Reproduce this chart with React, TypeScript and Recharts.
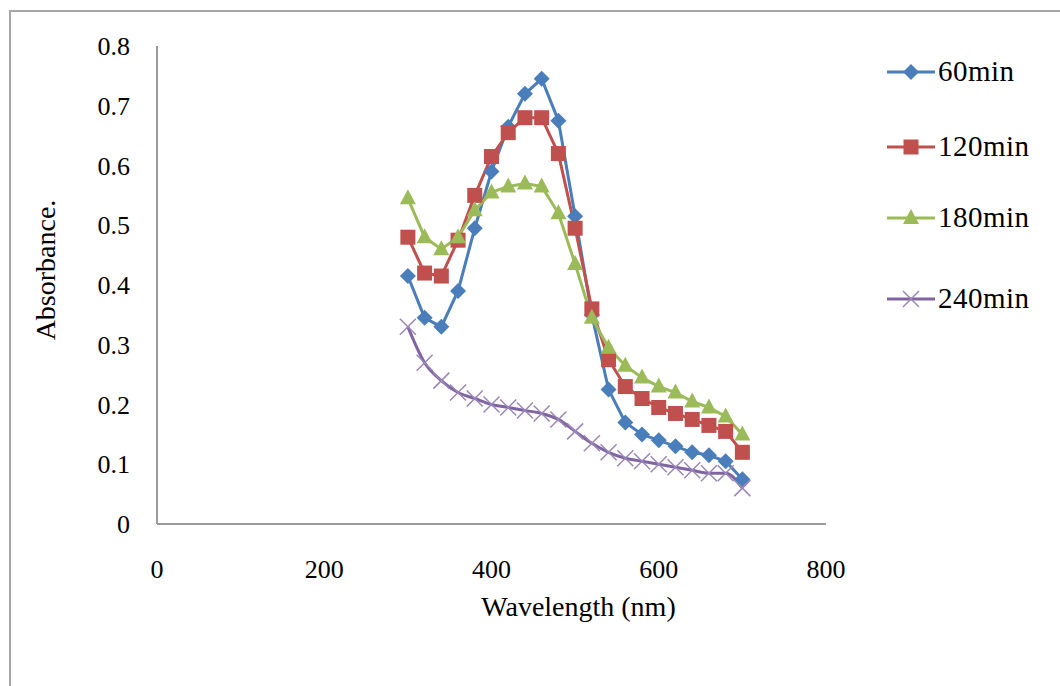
import React from "react";
import { LineChart, Line, XAxis, YAxis, Label } from "recharts";

const wavelengths = [300, 320, 340, 360, 380, 400, 420, 440, 460, 480, 500, 520, 540, 560, 580, 600, 620, 640, 660, 680, 700];
const min60 = [0.415, 0.345, 0.33, 0.39, 0.495, 0.59, 0.665, 0.72, 0.745, 0.675, 0.515, 0.35, 0.225, 0.17, 0.15, 0.14, 0.13, 0.12, 0.115, 0.105, 0.075];
const min120 = [0.48, 0.42, 0.415, 0.475, 0.55, 0.615, 0.655, 0.68, 0.68, 0.62, 0.495, 0.36, 0.275, 0.23, 0.21, 0.195, 0.185, 0.175, 0.165, 0.155, 0.12];
const min180 = [0.545, 0.48, 0.46, 0.48, 0.525, 0.555, 0.565, 0.57, 0.565, 0.52, 0.435, 0.345, 0.295, 0.265, 0.245, 0.23, 0.22, 0.205, 0.195, 0.18, 0.15];
const min240 = [0.33, 0.27, 0.24, 0.22, 0.21, 0.2, 0.195, 0.19, 0.185, 0.175, 0.155, 0.135, 0.12, 0.11, 0.105, 0.1, 0.095, 0.09, 0.085, 0.085, 0.06];
const xTicks = [0, 200, 400, 600, 800];
const yTicks = [0, 0.1, 0.2, 0.3, 0.4, 0.5, 0.6, 0.7, 0.8];

const data = wavelengths.map((w, i) => ({
    w,
    m60: min60[i],
    m120: min120[i],
    m180: min180[i],
    m240: min240[i]
}));

const FONT = "'Liberation Serif', 'Times New Roman', serif";
const BLUE = "#4a7ebb";
const RED = "#c0504d";
const GREEN = "#9bbb59";
const PURPLE = "#8064a2";

// @ts-ignore
const Diamond = ({ cx, cy }) => (
    <path d={`M${cx},${cy - 8}L${cx + 8},${cy}L${cx},${cy + 8}L${cx - 8},${cy}Z`} fill={BLUE} />
);
// @ts-ignore
const Square = ({ cx, cy }) => <rect x={cx - 7.5} y={cy - 7.5} width={15} height={15} fill={RED} />;
// @ts-ignore
const Triangle = ({ cx, cy }) => (
    <path d={`M${cx},${cy - 9}L${cx + 8},${cy + 6}L${cx - 8},${cy + 6}Z`} fill={GREEN} />
);
// @ts-ignore
const Cross = ({ cx, cy }) => (
    <path d={`M${cx - 8},${cy - 8}L${cx + 8},${cy + 8}M${cx + 8},${cy - 8}L${cx - 8},${cy + 8}`} stroke="#9a86b8" strokeWidth={1.5} fill="none" />
);

const legendItems = [
    { name: "60min", color: BLUE, Dot: Diamond, top: 55 },
    { name: "120min", color: RED, Dot: Square, top: 130 },
    { name: "180min", color: GREEN, Dot: Triangle, top: 201 },
    { name: "240min", color: PURPLE, Dot: Cross, top: 282 }
];

const CustomLegend = () => (
    <div style={{ position: "absolute", left: 885, top: 0, width: 180, height: 330 }}>
        {legendItems.map((it) => (
            <div key={it.name} style={{ position: "absolute", top: it.top, left: 0, display: "flex", alignItems: "center", whiteSpace: "nowrap" }}>
                <svg width={52} height={26}>
                    <line x1={2} y1={13} x2={50} y2={13} stroke={it.color} strokeWidth={3} />
                    <it.Dot cx={26} cy={13} />
                </svg>
                <span style={{ fontFamily: FONT, fontSize: 29, color: "#000", marginLeft: 1, letterSpacing: 0.5 }}>{it.name}</span>
            </div>
        ))}
    </div>
);

export default function App() {
    return (
        <div style={{ position: "absolute", left: 0, top: 0, width: 1060, height: 686, overflow: "hidden", background: "#fff" }}>
            <div style={{ position: "absolute", left: 9, top: 10, width: 1100, height: 800, border: "2px solid #a6a6a6" }} />
            <div style={{ position: "absolute", left: 0, top: 0 }}>
                <LineChart width={1060} height={686} data={data} margin={{ top: 46, right: 234, bottom: 102, left: 0 }}>
                    <XAxis
                        dataKey="w"
                        type="number"
                        domain={[0, 800]}
                        ticks={xTicks}
                        tickLine={false}
                        axisLine={{ stroke: "#9a9a9a", strokeWidth: 2 }}
                        tickMargin={30}
                        height={60}
                        tick={{ fill: "#000", fontFamily: FONT, fontSize: 26 }}
                    >
                        <Label
                            value="Wavelength (nm)"
                            position="bottom"
                            dx={87}
                            dy={7}
                            style={{ fill: "#000", fontFamily: FONT, fontSize: 28 }}
                        />
                    </XAxis>
                    <YAxis
                        type="number"
                        domain={[0, 0.8]}
                        ticks={yTicks}
                        interval={0}
                        tickLine={false}
                        axisLine={{ stroke: "#9a9a9a", strokeWidth: 2 }}
                        tickMargin={21}
                        width={157}
                        tick={{ fill: "#000", fontFamily: FONT, fontSize: 26 }}
                    >
                        <Label
                            value="Absorbance."
                            angle={-90}
                            position="insideLeft"
                            dx={40}
                            dy={-15}
                            style={{ fill: "#000", fontFamily: FONT, fontSize: 28, textAnchor: "middle" }}
                        />
                    </YAxis>
                    <Line type="linear" dataKey="m60" name="60min" stroke={BLUE} strokeWidth={3} dot={<Diamond cx={0} cy={0} />} isAnimationActive={false} />
                    <Line type="linear" dataKey="m120" name="120min" stroke={RED} strokeWidth={3} dot={<Square cx={0} cy={0} />} isAnimationActive={false} />
                    <Line type="linear" dataKey="m180" name="180min" stroke={GREEN} strokeWidth={3} dot={<Triangle cx={0} cy={0} />} isAnimationActive={false} />
                    <Line type="monotone" dataKey="m240" name="240min" stroke={PURPLE} strokeWidth={3} dot={<Cross cx={0} cy={0} />} isAnimationActive={false} />
                </LineChart>
            </div>
            <CustomLegend />
        </div>
    );
}
